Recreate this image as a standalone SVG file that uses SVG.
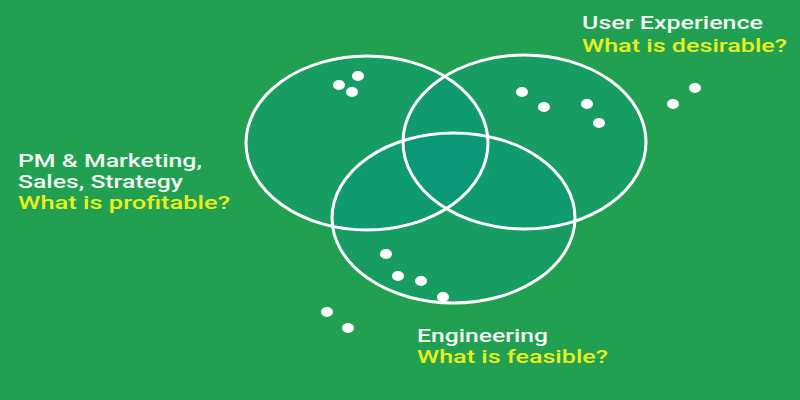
<svg xmlns="http://www.w3.org/2000/svg" xmlns:xlink="http://www.w3.org/1999/xlink" width="800" height="400" viewBox="0 0 800 400">
<style>
.set{fill:#00968a;fill-opacity:0.32;stroke:none}
.ring{fill:none;stroke:#ffffff;stroke-width:3}
.dot{fill:#ffffff}
.t{font-family:Roboto,"Liberation Sans",sans-serif;font-size:19px;font-weight:500}
.w{fill:#f2f8f2}
.y{fill:#e8f01c}
</style>
<defs>
<ellipse id="e-pm" cx="367" cy="143" rx="121" ry="87"/>
<ellipse id="e-ux" cx="524.5" cy="142" rx="121.5" ry="87"/>
<ellipse id="e-eng" cx="453.5" cy="218" rx="121.5" ry="85"/>
</defs>
<rect width="800" height="400" fill="#22a052"/>
<g id="pm">
<use class="set" href="#e-pm" xlink:href="#e-pm"/>
<ellipse class="dot" cx="339" cy="85" rx="6" ry="5"/>
<ellipse class="dot" cx="358" cy="76" rx="6" ry="5"/>
<ellipse class="dot" cx="352" cy="92" rx="6" ry="5"/>
<text class="t w" x="18" y="167" textLength="184" lengthAdjust="spacingAndGlyphs">PM &amp; Marketing,</text>
<text class="t w" x="18" y="188" textLength="165" lengthAdjust="spacingAndGlyphs">Sales, Strategy</text>
<text class="t y" x="18" y="209" textLength="212" lengthAdjust="spacingAndGlyphs">What is profitable?</text>
</g>
<g id="ux">
<use class="set" href="#e-ux" xlink:href="#e-ux"/>
<ellipse class="dot" cx="522" cy="92" rx="6" ry="5"/>
<ellipse class="dot" cx="544" cy="107" rx="6" ry="5"/>
<ellipse class="dot" cx="587" cy="104" rx="6" ry="5"/>
<ellipse class="dot" cx="599" cy="123" rx="6" ry="5"/>
<ellipse class="dot" cx="673" cy="104" rx="6" ry="5"/>
<ellipse class="dot" cx="695" cy="88" rx="6" ry="5"/>
<text class="t w" x="582" y="29" textLength="181" lengthAdjust="spacingAndGlyphs">User Experience</text>
<text class="t y" x="582" y="52" textLength="205" lengthAdjust="spacingAndGlyphs">What is desirable?</text>
</g>
<g id="eng">
<use class="set" href="#e-eng" xlink:href="#e-eng"/>
<ellipse class="dot" cx="386" cy="254" rx="6" ry="5"/>
<ellipse class="dot" cx="398" cy="276" rx="6" ry="5"/>
<ellipse class="dot" cx="421" cy="281" rx="6" ry="5"/>
<ellipse class="dot" cx="443" cy="297" rx="6" ry="5"/>
<ellipse class="dot" cx="327" cy="312" rx="6" ry="5"/>
<ellipse class="dot" cx="348" cy="328" rx="6" ry="5"/>
<text class="t w" x="417" y="342" textLength="131" lengthAdjust="spacingAndGlyphs">Engineering</text>
<text class="t y" x="417" y="363" textLength="191" lengthAdjust="spacingAndGlyphs">What is feasible?</text>
</g>
<g id="outlines">
<use class="ring" href="#e-pm" xlink:href="#e-pm"/>
<use class="ring" href="#e-ux" xlink:href="#e-ux"/>
<use class="ring" href="#e-eng" xlink:href="#e-eng"/>
</g>
<g id="connectors"/>
</svg>
